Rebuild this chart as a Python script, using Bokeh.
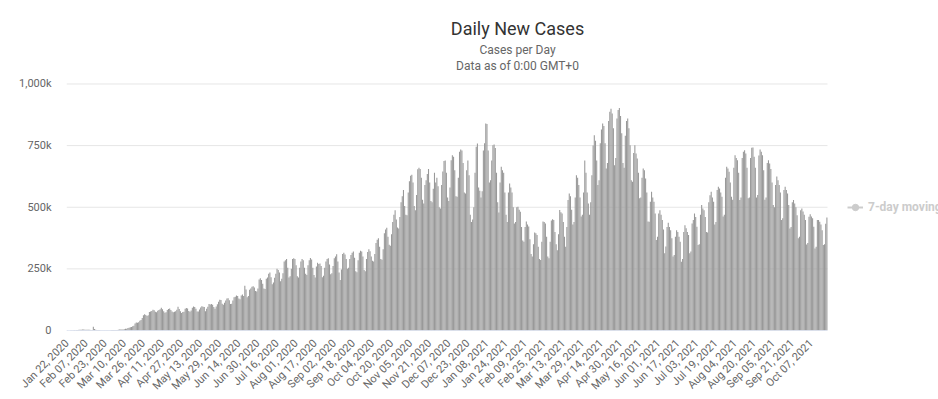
from math import pi
from bokeh.plotting import figure
from bokeh.models import Range1d, FixedTicker, Label, Legend, LegendItem, ColumnDataSource
from bokeh.embed import file_html
from bokeh.resources import INLINE

# Daily new cases (thousands), one row per week: Wed .. Tue, starting Jan 22, 2020
daily_cases_k = [
    0.6, 0.1, 0.3, 0.6, 0.7, 0.8, 1.8,
    1.5, 1.9, 2.1, 2.6, 2.8, 3.2, 3.9,
    3.7, 3.2, 3.4, 2.7, 2.6, 3.0, 2.1,
    2.0, 15.1, 6.5, 2.6, 2.1, 2.1, 1.9,
    0.6, 0.6, 1.0, 1.0, 0.6, 0.6, 0.9,
    1.1, 1.4, 1.8, 1.9, 2.3, 1.9, 2.3,
    2.4, 2.8, 3.6, 3.9, 3.8, 4.0, 4.6,
    7.2, 7.5, 10.5, 11.0, 13.2, 14.4, 16.8,
    19.5, 28.0, 32.0, 31.5, 33.5, 39.5, 43.0,
    50.5, 62.0, 65.5, 63.0, 58.5, 61.5, 75.0,
    77, 79.5, 84, 82, 76, 74, 80,
    83, 86, 92, 86, 78, 72, 74,
    83, 87, 89, 83, 77, 74, 76,
    78, 84, 96, 87, 78, 71, 75,
    76, 88, 91, 89, 79, 76, 81,
    92, 97, 95, 88, 77, 77, 85,
    93, 98, 96, 95, 78, 88, 96,
    107, 105, 108, 104, 95, 88, 97,
    106, 117, 125, 124, 109, 104, 113,
    122, 130, 131, 123, 107, 109, 122,
    135, 137, 142, 140, 130, 127, 142,
    146, 140, 182, 166, 135, 140, 165,
    170, 177, 180, 174, 160, 158, 170,
    207, 212, 205, 190, 170, 168, 210,
    215, 230, 235, 216, 188, 195, 214,
    230, 250, 245, 235, 200, 210, 232,
    280, 285, 290, 255, 215, 220, 250,
    290, 293, 290, 265, 220, 215, 255,
    280, 290, 285, 255, 230, 225, 265,
    285, 294, 288, 255, 225, 215, 260,
    275, 270, 272, 262, 216, 222, 255,
    280, 290, 293, 268, 228, 232, 262,
    293, 300, 309, 280, 235, 205, 247,
    310, 315, 308, 290, 250, 255, 290,
    306, 315, 320, 295, 240, 236, 285,
    315, 324, 320, 300, 245, 240, 290,
    318, 330, 322, 300, 283, 280, 310,
    355, 368, 374, 340, 290, 287, 330,
    395, 410, 417, 380, 348, 344, 390,
    440, 470, 488, 450, 418, 414, 460,
    520, 545, 570, 505, 470, 468, 560,
    605, 628, 632, 600, 505, 488, 550,
    654, 660, 655, 620, 530, 515, 590,
    610, 635, 655, 600, 525, 520, 575,
    640, 600, 620, 585, 500, 495, 590,
    645, 688, 690, 640, 540, 525, 580,
    691, 711, 705, 650, 545, 543, 620,
    725, 734, 730, 680, 560, 556, 650,
    690, 630, 470, 440, 450, 500, 640,
    745, 759, 580, 567, 540, 565, 730,
    760, 840, 838, 730, 600, 610, 690,
    752, 755, 740, 640, 520, 479, 600,
    664, 650, 640, 560, 470, 440, 560,
    596, 580, 560, 500, 434, 440, 500,
    502, 490, 482, 420, 365, 360, 420,
    442, 430, 422, 370, 310, 300, 350,
    398, 395, 387, 340, 290, 286, 360,
    442, 440, 434, 380, 300, 293, 360,
    446, 451, 448, 400, 350, 326, 390,
    489, 480, 475, 440, 380, 340, 420,
    529, 556, 545, 490, 430, 440, 540,
    630, 620, 590, 540, 462, 470, 560,
    690, 640, 560, 515, 470, 520, 630,
    750, 792, 770, 690, 590, 610, 760,
    815, 840, 830, 760, 657, 680, 850,
    887, 900, 880, 820, 670, 700, 860,
    895, 903, 870, 800, 680, 660, 790,
    850, 860, 820, 752, 610, 603, 720,
    752, 718, 698, 640, 536, 540, 620,
    657, 650, 617, 560, 442, 441, 522,
    563, 540, 522, 475, 367, 380, 475,
    488, 470, 448, 410, 313, 341, 420,
    437, 420, 407, 374, 300, 306, 380,
    407, 400, 380, 360, 279, 290, 400,
    427, 415, 400, 387, 313, 320, 434,
    448, 475, 460, 421, 347, 350, 470,
    509, 495, 488, 460, 400, 398, 520,
    549, 563, 540, 522, 430, 440, 570,
    583, 576, 560, 543, 462, 470, 620,
    664, 657, 644, 600, 543, 530, 660,
    711, 700, 691, 640, 529, 540, 700,
    725, 731, 718, 660, 536, 540, 700,
    741, 742, 705, 660, 540, 550, 710,
    734, 725, 711, 650, 530, 540, 680,
    691, 677, 655, 600, 509, 500, 590,
    625, 610, 590, 560, 448, 455, 570,
    583, 570, 556, 509, 414, 420, 520,
    529, 515, 500, 468, 374, 380, 488,
    495, 483, 470, 448, 349, 355, 461,
    472, 462, 455, 421, 333, 340, 448,
    448, 441, 430, 407, 347, 350, 433,
    458,
]

x_tick_labels = [
    "Jan 22, 2020", "Feb 07, 2020", "Feb 23, 2020", "Mar 10, 2020", "Mar 26, 2020",
    "Apr 11, 2020", "Apr 27, 2020", "May 13, 2020", "May 29, 2020", "Jun 14, 2020",
    "Jun 30, 2020", "Jul 16, 2020", "Aug 01, 2020", "Aug 17, 2020", "Sep 02, 2020",
    "Sep 18, 2020", "Oct 04, 2020", "Oct 20, 2020", "Nov 05, 2020", "Nov 21, 2020",
    "Dec 07, 2020", "Dec 23, 2020", "Jan 08, 2021", "Jan 24, 2021", "Feb 09, 2021",
    "Feb 25, 2021", "Mar 13, 2021", "Mar 29, 2021", "Apr 14, 2021", "Apr 30, 2021",
    "May 16, 2021", "Jun 01, 2021", "Jun 17, 2021", "Jul 03, 2021", "Jul 19, 2021",
    "Aug 04, 2021", "Aug 20, 2021", "Sep 05, 2021", "Sep 21, 2021", "Oct 07, 2021",
]
x_tick_step = 16

y_tick_values = [0, 250000, 500000, 750000, 1000000]
y_tick_labels = ["0", "250k", "500k", "750k", "1,000k"]

title_text = "Daily New Cases"
subtitle_lines = ["Cases per Day", "Data as of 0:00 GMT+0"]
legend_label = "7-day moving average"

# ---------------------------------------------------------------
n = len(daily_cases_k)
xs = list(range(n))
cases = [v * 1000 for v in daily_cases_k]
x_tick_pos = [x_tick_step * i for i in range(len(x_tick_labels))]

W, H = 938, 399
BL, BB = 66, 67                 # left / bottom borders (px)
plot_w_px, plot_h_px = 761, 248  # size of the bar area (px)
frame_w = W - BL
frame_h = H - BB
y_max = y_tick_values[-1]

x_lo = -0.5
x_hi = x_lo + n * frame_w / plot_w_px
y_hi = y_max * frame_h / plot_h_px

p = figure(width=W, height=H, output_backend="svg", toolbar_location=None, tools="",
           x_range=Range1d(x_lo, x_hi), y_range=Range1d(0, y_hi),
           min_border_left=BL, min_border_right=0, min_border_top=0, min_border_bottom=BB)
p.outline_line_color = None
p.background_fill_color = "white"
p.border_fill_color = "white"
p.xgrid.visible = False
p.ygrid.visible = False

# horizontal grid lines limited to the bar area
grid_vals = y_tick_values[1:]
p.segment(x0=x_lo, x1=n - 0.5, y0=grid_vals, y1=grid_vals,
          line_color="#e6e6e6", line_width=1)

src = ColumnDataSource(dict(x=xs, cases=cases))
p.vbar(x="x", top="cases", width=0.9, source=src, fill_color="#999999", line_color=None)

# x axis line limited to the bar area
p.segment(x0=[x_lo], x1=[n - 0.5], y0=[0], y1=[0], line_color="#ccd6eb", line_width=1)

# axes
p.yaxis.ticker = FixedTicker(ticks=y_tick_values)
p.yaxis.major_label_overrides = {v: s for v, s in zip(y_tick_values, y_tick_labels)}
p.yaxis.axis_line_color = None
p.yaxis.major_tick_line_color = None
p.yaxis.minor_tick_line_color = None
p.yaxis.major_tick_out = 0
p.yaxis.major_tick_in = 0
p.yaxis.major_label_standoff = 15
p.yaxis.major_label_text_font = "Roboto"
p.yaxis.major_label_text_font_size = "11px"
p.yaxis.major_label_text_color = "#666666"

p.xaxis.ticker = FixedTicker(ticks=x_tick_pos)
p.xaxis.major_label_overrides = {v: s for v, s in zip(x_tick_pos, x_tick_labels)}
p.xaxis.axis_line_color = None
p.xaxis.major_tick_line_color = None
p.xaxis.minor_tick_line_color = None
p.xaxis.major_tick_out = 0
p.xaxis.major_tick_in = 0
p.xaxis.major_label_standoff = 11
p.xaxis.major_label_orientation = pi / 4
p.xaxis.major_label_text_font = "Roboto"
p.xaxis.major_label_text_font_size = "11px"
p.xaxis.major_label_text_color = "#666666"

# titles (centred on the original, wider chart)
units_per_px_y = y_max / plot_h_px
center_x = x_lo + 451 * n / plot_w_px
p.add_layout(Label(x=center_x, y=304 * units_per_px_y, text=title_text,
                   text_align="center", text_baseline="middle", text_font="Roboto",
                   text_font_size="18px", text_color="#333333"))
for off, line in zip([282, 266], subtitle_lines):
    p.add_layout(Label(x=center_x, y=off * units_per_px_y, text=line,
                       text_align="center", text_baseline="middle", text_font="Roboto",
                       text_font_size="12px", text_color="#666666"))

# hidden 7-day moving average series (no visible values), shown only in the legend
hidden_src = ColumnDataSource(dict(x=[0], y=[float("nan")]))
lr = p.line(x="x", y="y", source=hidden_src, line_color="#cccccc", line_width=2)
sr = p.scatter(x="x", y="y", source=hidden_src, size=8, fill_color="#cccccc",
               line_color="#cccccc")
legend = Legend(items=[LegendItem(label=legend_label, renderers=[lr, sr], index=0)],
                location=(781, 113), padding=0, margin=0, spacing=0,
                glyph_width=16, glyph_height=20, label_standoff=5,
                border_line_color=None, background_fill_alpha=0,
                label_text_font="Roboto", label_text_font_size="12px",
                label_text_font_style="bold", label_text_color="#cccccc")
p.add_layout(legend)

open("out.html", "w").write(file_html(p, INLINE))
